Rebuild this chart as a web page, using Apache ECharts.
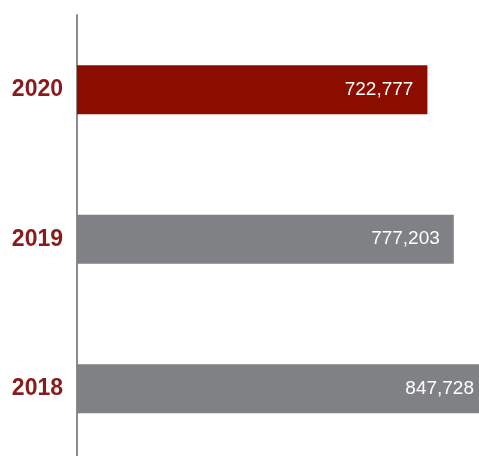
<!DOCTYPE html>
<html>
<head>
<meta charset="utf-8">
<script src="https://cdn.jsdelivr.net/npm/echarts@6/dist/echarts.min.js"></script>
<style>
  html, body { margin: 0; padding: 0; background: #fff; }
  #main_chart { width: 479px; height: 456px; }
</style>
</head>
<body>
<div id="main_chart"></div>
<script>
var years = ['2018', '2019', '2020'];
var totals = [847728, 777203, 722777];
var barColors = ['#808184', '#808184', '#8b0d00'];

var FONT = "'Liberation Sans Narrow', 'Arial Narrow', 'Liberation Sans', sans-serif";

var chart = echarts.init(document.getElementById('main_chart'));

var option = {
    animation: false,
    grid: {
        left: 77,
        top: 15,
        width: 411,
        height: 448.5,
        outerBoundsMode: 'none',
        containLabel: false
    },
    xAxis: {
        type: 'value',
        min: 0,
        max: 847728,
        show: false
    },
    yAxis: {
        type: 'category',
        data: years,
        axisLine: { show: true, lineStyle: { color: '#8c8c8c', width: 2 } },
        axisTick: { show: false },
        axisLabel: {
            color: '#8b1a1a',
            fontFamily: FONT,
            fontWeight: 'bold',
            fontSize: 23,
            margin: 14
        }
    },
    series: [
        {
            type: 'bar',
            barWidth: 49,
            data: totals.map(function (v, i) {
                return { value: v, itemStyle: { color: barColors[i] } };
            }),
            label: {
                show: true,
                position: 'insideRight',
                distance: 14,
                color: '#fff',
                fontFamily: FONT,
                fontSize: 19,
                formatter: function (p) {
                    return p.value.toLocaleString('en-US');
                }
            }
        }
    ]
};

chart.setOption(option);
</script>
</body>
</html>
